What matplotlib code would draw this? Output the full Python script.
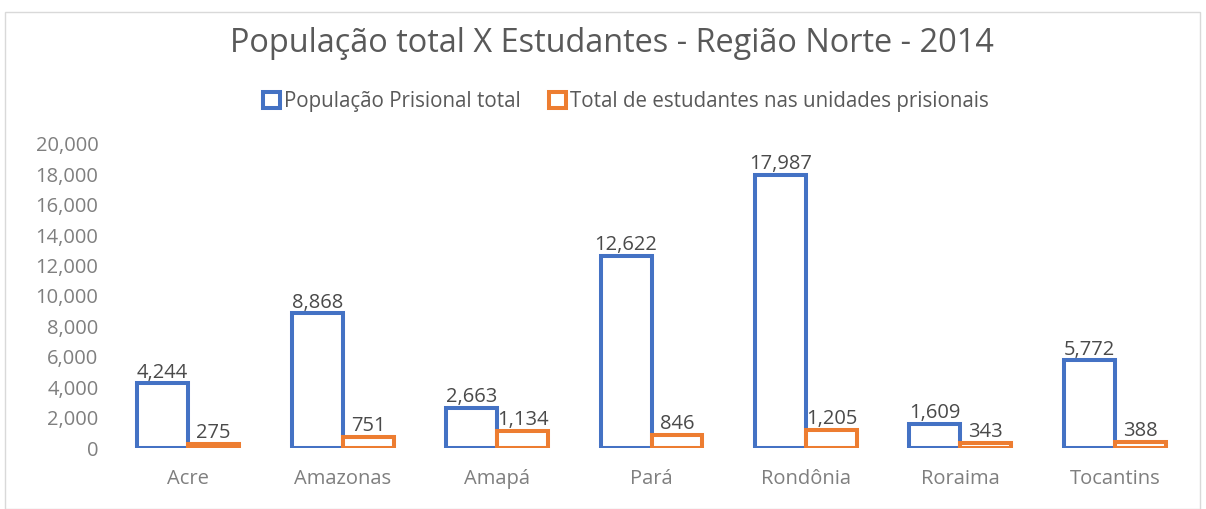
import matplotlib
matplotlib.use("Agg")
import matplotlib.pyplot as plt
from matplotlib.patches import Rectangle
import numpy as np

categories = ["Acre", "Amazonas", "Amapá", "Pará", "Rondônia", "Roraima", "Tocantins"]
populacao = [4244, 8868, 2663, 12622, 17987, 1609, 5772]
estudantes = [275, 751, 1134, 846, 1205, 343, 388]
yticks = [0, 2000, 4000, 6000, 8000, 10000, 12000, 14000, 16000, 18000, 20000]

title = "População total X Estudantes - Região Norte - 2014"
label_pop = "População Prisional total"
label_est = "Total de estudantes nas unidades prisionais"

BLUE = "#4472C4"
ORANGE = "#ED7D31"
GRAY = "#595959"
LIGHT = "#7f7f7f"
DARK = "#4a4a4a"
FONT = ["Open Sans", "DejaVu Sans"]

plt.rcParams["font.family"] = FONT

fig = plt.figure(figsize=(12.06, 5.09), dpi=100)
W, H = 1206, 509

# chart border
fig.patches.append(Rectangle((5 / W, 0), 1195 / W, 497 / H, transform=fig.transFigure,
                             fill=False, edgecolor="#d9d9d9", linewidth=1))

ax = fig.add_axes([111 / W, 61 / H, 1081 / W, 304 / H])
x = np.arange(len(categories))
bw = 0.33
lw = 2.9
b1 = ax.bar(x - bw / 2, populacao, width=bw, facecolor="white", edgecolor=BLUE,
            linewidth=lw, label=label_pop)
b2 = ax.bar(x + bw / 2, estudantes, width=bw, facecolor="white", edgecolor=ORANGE,
            linewidth=lw, label=label_est)

for bars, vals in ((b1, populacao), (b2, estudantes)):
    for r, v in zip(bars, vals):
        ax.annotate(f"{v:,}", (r.get_x() + r.get_width() / 2, r.get_height()),
                    xytext=(0, 0.5), textcoords="offset points", ha="center", va="bottom",
                    fontsize=14.5, color=DARK)

ax.set_xlim(-0.5, len(categories) - 0.5)
ax.set_ylim(0, 20000)
ax.set_yticks(yticks)
ax.set_yticklabels([f"{t:,}" for t in yticks])
ax.set_xticks(x)
ax.set_xticklabels(categories)
for s in ax.spines.values():
    s.set_visible(False)
ax.tick_params(axis="both", length=0, labelsize=14.5, labelcolor=LIGHT)
ax.tick_params(axis="y", pad=9)
ax.tick_params(axis="x", pad=15)
for lab in ax.get_yticklabels():
    lab.set_horizontalalignment("right")

fig.text(612 / W, 1 - 43 / H, title, ha="center", va="center", fontsize=23.4, color=GRAY)

leg = fig.legend(handles=[b1, b2], labels=[label_pop, label_est], loc="center",
                 bbox_to_anchor=(626 / W, 1 - 102 / H), ncol=2, frameon=False,
                 fontsize=14.8, handlelength=0.8, handleheight=0.8, handletextpad=0.2,
                 columnspacing=1.4, labelcolor=GRAY)

fig.savefig("out.png", dpi=100, facecolor="white")
